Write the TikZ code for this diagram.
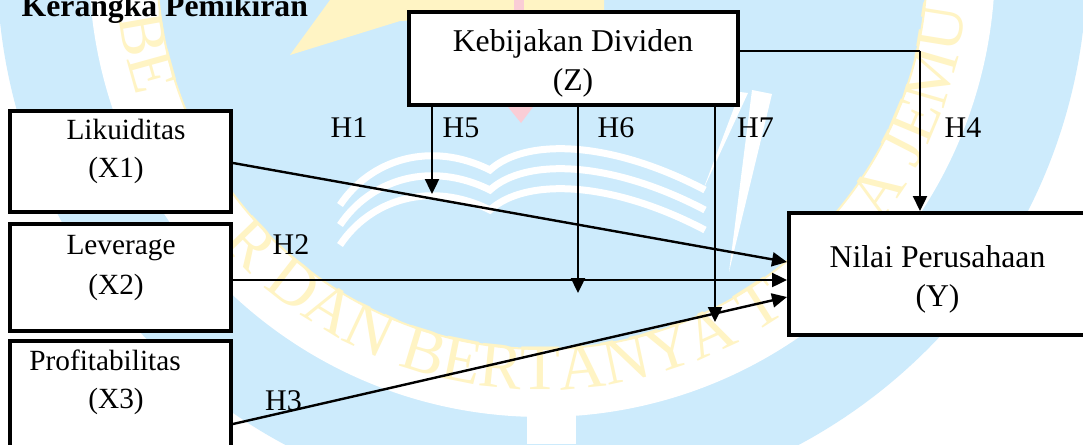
\documentclass[tikz,border=0pt]{standalone}
\usepackage{fontspec}
\setmainfont{Liberation Serif}
\usetikzlibrary{arrows.meta,decorations.text}
\definecolor{wmblue}{RGB}{205,235,252}
\definecolor{wmyellow}{RGB}{255,244,196}
\definecolor{wmpink}{RGB}{250,205,214}
\newcommand{\bigtxt}{\fontsize{31.7}{38}\selectfont}
\newcommand{\midtxt}{\fontsize{29.3}{35}\selectfont}
\newcommand{\hyptxt}{\fontsize{30}{36}\selectfont}
\newcommand{\ringtxt}{\fontsize{65}{65}\selectfont}
\begin{document}
\begin{tikzpicture}[x=1pt,y=-1pt,
  varbox/.style={draw=black,line width=4pt,fill=white,inner sep=0pt},
  lbl/.style={inner sep=0pt,anchor=base},
  arr/.style={line width=2.4pt,-{Triangle[length=15pt,width=14pt]}},
  thinline/.style={line width=1.5pt},
  stripe/.style={white,line width=7pt},
  ringword/.style={decorate,decoration={text along path,
      text={|\ringtxt\color{wmyellow}|#1}}}]
\useasboundingbox (0,0) rectangle (1083,444);
\clip (0,0) rectangle (1083,444);

% ---- faint logo in the background ----
\fill[white] (0,0) rectangle (1083,444);
\fill[wmblue] (542,-36) circle[radius=545];
\fill[white] (542,-36) circle[radius=453];
\fill[wmblue] (542,-36) circle[radius=385];
\draw[wmyellow,line width=2pt] (542,-36) circle[radius=385];
\fill[white] (527,415) rectangle (576,444);
% sun wedge and bookmark
\fill[wmyellow] (290,55) -- (330,0) -- (604,0) -- (604,10) -- (400,21) -- cycle;
\fill[wmpink] (514,0) rectangle (524,12);
\fill[wmpink] (508,107) -- (533,107) -- (521,123) -- cycle;
% open book pages
\foreach \d in {0,20,40}{
  \draw[stripe] (340,205+\d) .. controls (370,160+\d) and (430,140+\d) .. (490,170+\d)
                .. controls (525,138+\d) and (610,140+\d) .. (705,190+\d);
}
% quill
\fill[white] (752,90) -- (772,94) -- (729,272) -- cycle;
\fill[white] (740,92) -- (748,93) -- (703,190) -- cycle;
% motto along the ring (the parts left uncovered by the boxes)
\path[ringword={BE}]
  (542,-36) ++(-187:426) arc[start angle=-187,end angle=-215,radius=426];
\path[ringword={R DAN BERTANYA T}]
  (542,-36) ++(-221:426) arc[start angle=-221,end angle=-318,radius=426];
\path[ringword={A JEMU}]
  (542,-36) ++(-322.7:426) arc[start angle=-322.7,end angle=-362,radius=426];

% ---- diagram ----
\node[anchor=base west,inner sep=0pt,font=\bfseries\bigtxt] (title) at (21.5,17) {Kerangka Pemikiran};

\node[varbox,minimum width=329pt,minimum height=93pt] (z) at (573.5,58.5) {};
\node[varbox,minimum width=221pt,minimum height=101pt] (x1) at (120.5,161.5) {};
\node[varbox,minimum width=221pt,minimum height=107pt] (x2) at (120.5,277.5) {};
\node[varbox,minimum width=221pt,minimum height=139pt] (x3) at (120.5,410.5) {};
\node[varbox,minimum width=321pt,minimum height=122pt] (y) at (949.5,274) {};

\node[lbl,font=\bigtxt] (za) at (573,52) {Kebijakan Dividen};
\node[lbl,font=\bigtxt] (zb) at (573,90) {(Z)};
\node[lbl,font=\midtxt] (x1a) at (126,139) {Likuiditas};
\node[lbl,font=\midtxt] (x1b) at (116,177) {(X1)};
\node[lbl,font=\midtxt] (x2a) at (121,254) {Leverage};
\node[lbl,font=\midtxt] (x2b) at (116,294) {(X2)};
\node[lbl,font=\midtxt] (x3a) at (105,370) {Profitabilitas};
\node[lbl,font=\midtxt] (x3b) at (116,408) {(X3)};
\node[lbl,font=\bigtxt] (ya) at (937.5,267) {Nilai Perusahaan};
\node[lbl,font=\bigtxt] (yb) at (937.5,306) {(Y)};

\node[lbl,font=\hyptxt] (h1l) at (349,137) {H1};
\node[lbl,font=\hyptxt] (h5l) at (461,137) {H5};
\node[lbl,font=\hyptxt] (h6l) at (616,137) {H6};
\node[lbl,font=\hyptxt] (h7l) at (755.5,137) {H7};
\node[lbl,font=\hyptxt] (h4l) at (963,137) {H4};
\node[lbl,font=\hyptxt] (h2l) at (291,254) {H2};
\node[lbl,font=\hyptxt] (h3l) at (283.5,410) {H3};

% direct effects
\draw[arr] ([yshift=-1.5pt]x1.east) -- ([yshift=12pt]y.west);
\draw[arr] ([yshift=-2.5pt]x2.east) -- ([yshift=-6pt]y.west);
\draw[arr] ([yshift=-13.5pt]x3.east) -- ([yshift=-23pt]y.west);

% moderating paths from Z
\coordinate (h5) at (432,194);
\coordinate (h6) at (578,293);
\coordinate (h7) at (715,322);
\coordinate (h4) at (920,51);
\draw[arr] (z.south -| h5) -- (h5);
\draw[arr] (z.south -| h6) -- (h6);
\draw[arr] (z.south -| h7) -- (h7);
\draw[thinline] (z.east |- h4) -- (h4);
\draw[arr] (h4) -- (h4 |- y.north);
\end{tikzpicture}
\end{document}
